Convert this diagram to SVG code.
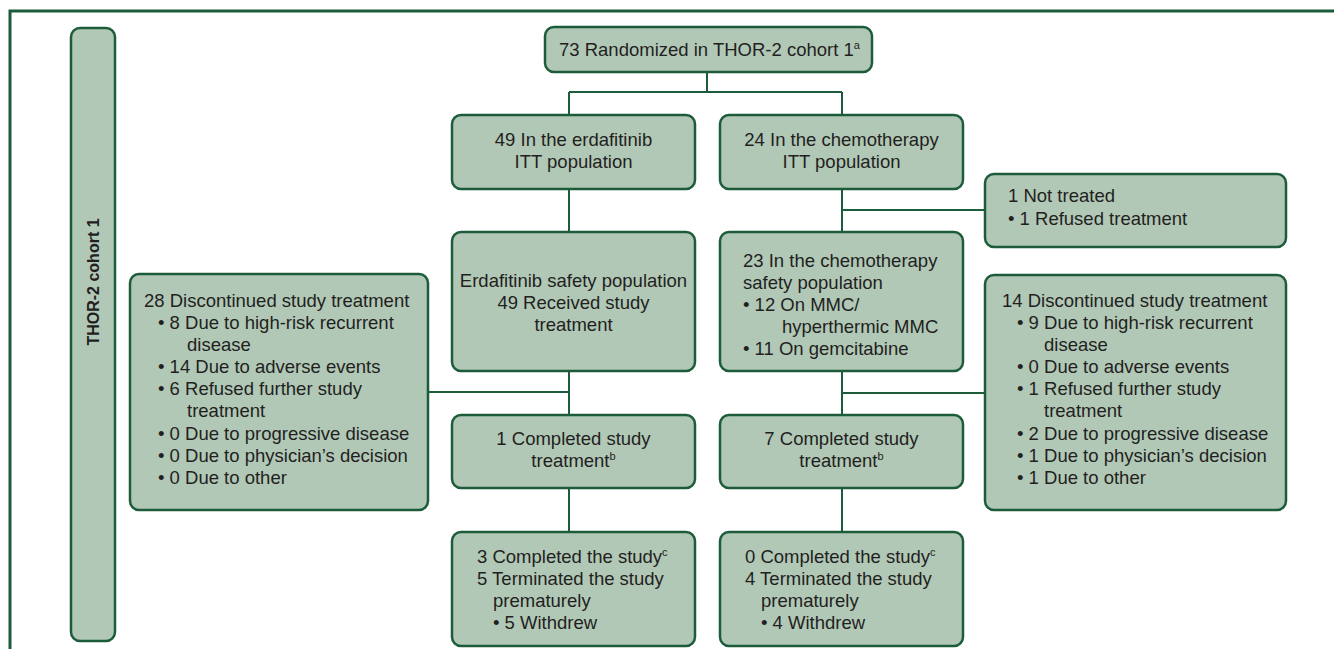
<svg xmlns="http://www.w3.org/2000/svg" width="1334" height="649" viewBox="0 0 1334 649">
<style>
.box{fill:#b1c8b7;stroke:#1d5c3a;stroke-width:2.5}
.ln{fill:none;stroke:#1d5c3a;stroke-width:2}
text{font-family:"Liberation Sans",Arial,Helvetica,sans-serif;font-size:18.5px;fill:#231f20}
.c{text-anchor:middle}
.sup{font-size:11px}
.lbl{font-weight:bold;font-size:16px}
</style>
<rect width="1334" height="649" fill="#ffffff"/>
<path d="M10,649 V11 H1334" fill="none" stroke="#1d5c3a" stroke-width="3"/>

<g id="connectors">
<path class="ln" d="M707,72 V92 M569,92 H842 M569,92 V115 M842,92 V115"/>
<path class="ln" d="M569,189 V232 M842,189 V232 M842,210 H985"/>
<path class="ln" d="M569,371 V415 M428,392 H569 M842,371 V415 M842,393 H985"/>
<path class="ln" d="M569,488 V532 M842,488 V532"/>
</g>

<g id="cohort-label">
<rect class="box" x="71" y="28" width="44" height="613" rx="9"/>
<text class="lbl c" transform="translate(99,282) rotate(-90)">THOR-2 cohort 1</text>
</g>

<g id="randomized">
<rect class="box" x="545" y="27" width="327" height="45" rx="9"/>
<text x="559" y="56">73 Randomized in THOR-2 cohort 1<tspan class="sup" dy="-7">a</tspan></text>
</g>

<g id="erda-itt">
<rect class="box" x="452" y="115" width="243" height="74" rx="9"/>
<text class="c" x="573.5" y="146">49 In the erdafitinib</text>
<text class="c" x="573.5" y="168">ITT population</text>
</g>

<g id="chemo-itt">
<rect class="box" x="720" y="115" width="243" height="74" rx="9"/>
<text class="c" x="841.5" y="146">24 In the chemotherapy</text>
<text class="c" x="841.5" y="168">ITT population</text>
</g>

<g id="not-treated">
<rect class="box" x="985" y="174" width="301" height="73" rx="9"/>
<text x="1008" y="202">1 Not treated</text>
<text x="1008" y="225">• 1 Refused treatment</text>
</g>

<g id="erda-safety">
<rect class="box" x="452" y="232" width="243" height="139" rx="9"/>
<text class="c" x="573.5" y="287">Erdafitinib safety population</text>
<text class="c" x="573.5" y="309">49 Received study</text>
<text class="c" x="573.5" y="331">treatment</text>
</g>

<g id="chemo-safety">
<rect class="box" x="720" y="232" width="243" height="139" rx="9"/>
<text x="743" y="267">23 In the chemotherapy</text>
<text x="743" y="289">safety population</text>
<text x="743" y="311">• 12 On MMC/</text>
<text x="782" y="333">hyperthermic MMC</text>
<text x="743" y="355">• 11 On gemcitabine</text>
</g>

<g id="erda-discontinued">
<rect class="box" x="130" y="274" width="298" height="236" rx="9"/>
<text x="144" y="307">28 Discontinued study treatment</text>
<text x="158" y="329">• 8 Due to high-risk recurrent</text>
<text x="187" y="351">disease</text>
<text x="158" y="373">• 14 Due to adverse events</text>
<text x="158" y="395">• 6 Refused further study</text>
<text x="187" y="417">treatment</text>
<text x="158" y="440">• 0 Due to progressive disease</text>
<text x="158" y="462">• 0 Due to physician’s decision</text>
<text x="158" y="484">• 0 Due to other</text>
</g>

<g id="chemo-discontinued">
<rect class="box" x="985" y="275" width="301" height="235" rx="9"/>
<text x="1002" y="307">14 Discontinued study treatment</text>
<text x="1017" y="329">• 9 Due to high-risk recurrent</text>
<text x="1044" y="351">disease</text>
<text x="1017" y="373">• 0 Due to adverse events</text>
<text x="1017" y="395">• 1 Refused further study</text>
<text x="1044" y="417">treatment</text>
<text x="1017" y="440">• 2 Due to progressive disease</text>
<text x="1017" y="462">• 1 Due to physician’s decision</text>
<text x="1017" y="484">• 1 Due to other</text>
</g>

<g id="erda-completed">
<rect class="box" x="452" y="415" width="243" height="73" rx="9"/>
<text class="c" x="573.5" y="445">1 Completed study</text>
<text class="c" x="573.5" y="467">treatment<tspan class="sup" dy="-7">b</tspan></text>
</g>

<g id="chemo-completed">
<rect class="box" x="720" y="415" width="243" height="73" rx="9"/>
<text class="c" x="841.5" y="445">7 Completed study</text>
<text class="c" x="841.5" y="467">treatment<tspan class="sup" dy="-7">b</tspan></text>
</g>

<g id="erda-final">
<rect class="box" x="452" y="532" width="243" height="114" rx="9"/>
<text x="477" y="563">3 Completed the study<tspan class="sup" dy="-7">c</tspan></text>
<text x="477" y="585">5 Terminated the study</text>
<text x="493" y="607">prematurely</text>
<text x="493" y="629">• 5 Withdrew</text>
</g>

<g id="chemo-final">
<rect class="box" x="720" y="532" width="243" height="114" rx="9"/>
<text x="745" y="563">0 Completed the study<tspan class="sup" dy="-7">c</tspan></text>
<text x="745" y="585">4 Terminated the study</text>
<text x="761" y="607">prematurely</text>
<text x="761" y="629">• 4 Withdrew</text>
</g>
</svg>
